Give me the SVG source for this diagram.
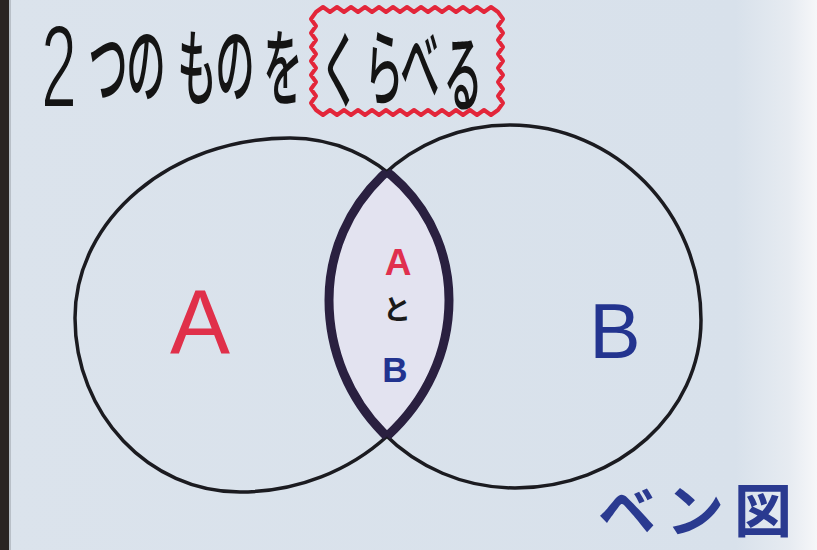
<svg xmlns="http://www.w3.org/2000/svg" xmlns:xlink="http://www.w3.org/1999/xlink" width="817" height="550" viewBox="0 0 817 550">
<defs>
<style>
.jp{font-family:"Noto Sans CJK JP","Noto Sans CJK SC",sans-serif;}
.title{font-size:84px;font-weight:500;fill:#141414;}
.thin{fill:none;stroke:#1b1b20;stroke-width:3.5;}
.thick{fill:none;stroke:#2a2040;stroke-width:9;}
.lab{font-family:"Liberation Sans",Arial,sans-serif;text-anchor:middle;}
</style>
<linearGradient id="bg" x1="0" y1="0" x2="1" y2="0">
<stop offset="0" stop-color="#dbe3ec"/>
<stop offset="0.9" stop-color="#d8e1eb"/>
<stop offset="0.965" stop-color="#e6ebf1"/>
<stop offset="1" stop-color="#f6f7f9"/>
</linearGradient>
<path id="cL" d="M75,318 C75,219 171,138 290,138 C378,138 449,211 449,300 C449,406 355,492 240,492 C149,492 75,414 75,318 Z"/>
<path id="cR" d="M329,300 C329,203 410,125 510,125 C615,125 701,212 701,320 C701,413 618,488 515,488 C412,488 329,404 329,300 Z"/>
<clipPath id="clipL"><use xlink:href="#cL"/></clipPath>
<clipPath id="clipR"><use xlink:href="#cR"/></clipPath>
</defs>
<rect x="0" y="0" width="817" height="550" fill="url(#bg)"/>
<rect x="0" y="0" width="9" height="550" fill="#2a2422"/>
<rect x="9" y="0" width="2" height="550" fill="#b9c0c8"/>

<g id="title">
<text class="lab" transform="translate(59,107) scale(0.55,1)" font-size="116" fill="#141414" stroke="#dbe3ec" stroke-width="2">2</text>
<g class="jp title" text-anchor="middle">
<text transform="translate(108,98) scale(0.47,1)">つ</text>
<text transform="translate(146,96) scale(0.47,1)">の</text>
<text transform="translate(197,99) scale(0.47,1)">も</text>
<text transform="translate(235,96) scale(0.47,1)">の</text>
<text transform="translate(283,99) scale(0.47,1)">を</text>
<text transform="translate(340,101) scale(0.47,1)">く</text>
<text transform="translate(384,99) scale(0.47,1)">ら</text>
<text transform="translate(420,96) scale(0.47,1)">べ</text>
<text transform="translate(463,105) scale(0.47,1)">る</text>
</g>
<path d="M316,12 l7,-5 l7,5 l7,-5 l7,5 l7,-5 l7,5 l7,-5 l7,5 l7,-5 l7,5 l7,-5 l7,5 l7,-5 l7,5 l7,-5 l7,5 l7,-5 l7,5 l7,-5 l7,5 l7,-5 l7,5 l7,-5 l7,5 l7,-5 l7,5 l5,7 l-5,7 l5,7 l-5,7 l5,7 l-5,7 l5,7 l-5,7 l5,7 l-5,7 l5,7 l-5,7 l5,7 l-5,7 l-7,5 l-7,-5 l-7,5 l-7,-5 l-7,5 l-7,-5 l-7,5 l-7,-5 l-7,5 l-7,-5 l-7,5 l-7,-5 l-7,5 l-7,-5 l-7,5 l-7,-5 l-7,5 l-7,-5 l-7,5 l-7,-5 l-7,5 l-7,-5 l-7,5 l-7,-5 l-7,5 l-7,-5 l-5,-7 l5,-7 l-5,-7 l5,-7 l-5,-7 l5,-7 l-5,-7 l5,-7 l-5,-7 l5,-7 l-5,-7 l5,-7 l-5,-7 l5,-7 Z" fill="none" stroke="#e3263a" stroke-width="4" stroke-linejoin="round"/>
</g>

<g id="intersection">
<use xlink:href="#cR" fill="#e3e3f0" clip-path="url(#clipL)"/>
</g>
<g id="circle-A">
<use xlink:href="#cL" class="thin"/>
</g>
<g id="circle-B">
<use xlink:href="#cR" class="thin"/>
</g>
<g id="intersection-border">
<use xlink:href="#cL" class="thick" clip-path="url(#clipR)"/>
<use xlink:href="#cR" class="thick" clip-path="url(#clipL)"/>
</g>

<g id="label-A">
<text class="lab" x="200" y="353" font-size="90" fill="#e0304a">A</text>
</g>
<g id="label-B">
<text class="lab" x="615" y="358" font-size="77" fill="#23348f">B</text>
</g>
<g id="label-AB">
<text class="lab" x="398" y="275" font-size="37" font-weight="700" fill="#e0304e">A</text>
<text class="jp" x="397" y="320" font-size="28" font-weight="700" text-anchor="middle" fill="#1a1a1a">と</text>
<text class="lab" x="395" y="382" font-size="35" font-weight="700" fill="#22338f">B</text>
</g>
<g id="label-venn" class="jp" font-size="58" font-weight="700" fill="#2a3a90" text-anchor="middle">
<text x="627" y="532">ベ</text>
<text x="695" y="532">ン</text>
<text x="763" y="532">図</text>
</g>
</svg>
